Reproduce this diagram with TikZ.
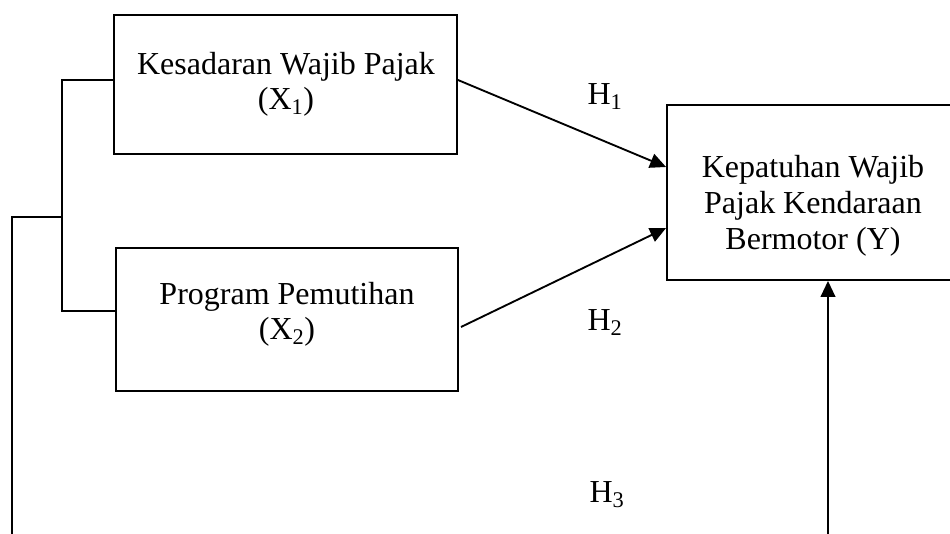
\documentclass[tikz,border=0pt]{standalone}
\usepackage{fontspec}
\setmainfont{Liberation Serif}
\usetikzlibrary{arrows.meta,calc}
\begin{document}
\begin{tikzpicture}[x=0.75pt,y=-0.75pt,
  box/.style={draw,line width=1.4pt,minimum width=#1,inner sep=0pt},
  txt/.style={align=center,inner sep=0pt,font=\fontsize{24}{26.5}\selectfont},
  lbl/.style={inner sep=0pt,font=\fontsize{24}{26.5}\selectfont},
  conn/.style={line width=1.4pt},
  arr/.style={line width=1.4pt,-{Triangle[length=12pt,width=11pt]}}]
\clip (0,0) rectangle (950,534);
\useasboundingbox (0,0) rectangle (950,534);
% boxes
\node[box=257.25pt,minimum height=104.25pt] (bx1) at (285.5,84.5) {};
\node[box=256.5pt,minimum height=107.25pt] (bx2) at (287,319.5) {};
\node[box=219pt,minimum height=131.25pt] (by) at (813,192.5) {};
% texts
\node[txt] (tx1) at (286,84) {Kesadaran Wajib Pajak\\(X\textsubscript{1})};
\node[txt] (tx2) at (287,314) {Program Pemutihan\\(X\textsubscript{2})};
\node[txt,font=\fontsize{24}{27}\selectfont] (ty) at (813,206) {Kepatuhan Wajib\\Pajak Kendaraan\\Bermotor (Y)};
% labels
\node[lbl] (h1) at (605,97) {H\textsubscript{1}};
\node[lbl] (h2) at (605,323) {H\textsubscript{2}};
\node[lbl] (h3) at (607,495) {H\textsubscript{3}};
% junction coordinates
\coordinate (j1) at (62,80);
\coordinate (j2) at (62,311);
\coordinate (j3) at (62,217);
\coordinate (j4) at (12,217);
\coordinate (j5) at (12,545);
\coordinate (v1) at (828,545);
\coordinate (a1s) at (457,80);
\coordinate (a1e) at (666,167);
\coordinate (a2s) at (461,327);
\coordinate (a2e) at (667,228);
% connectors
\draw[conn] (bx1.west |- j1) -- (j1) -- (j2) -- (bx2.west |- j2);
\draw[conn] (j3) -- (j4) -- (j5);
\draw[arr] (bx1.east |- a1s) -- (by.west |- a1e);
\draw[arr] (a2s) -- (by.west |- a2e);
\draw[arr] (v1) -- (by.south -| v1);
\end{tikzpicture}
\end{document}
